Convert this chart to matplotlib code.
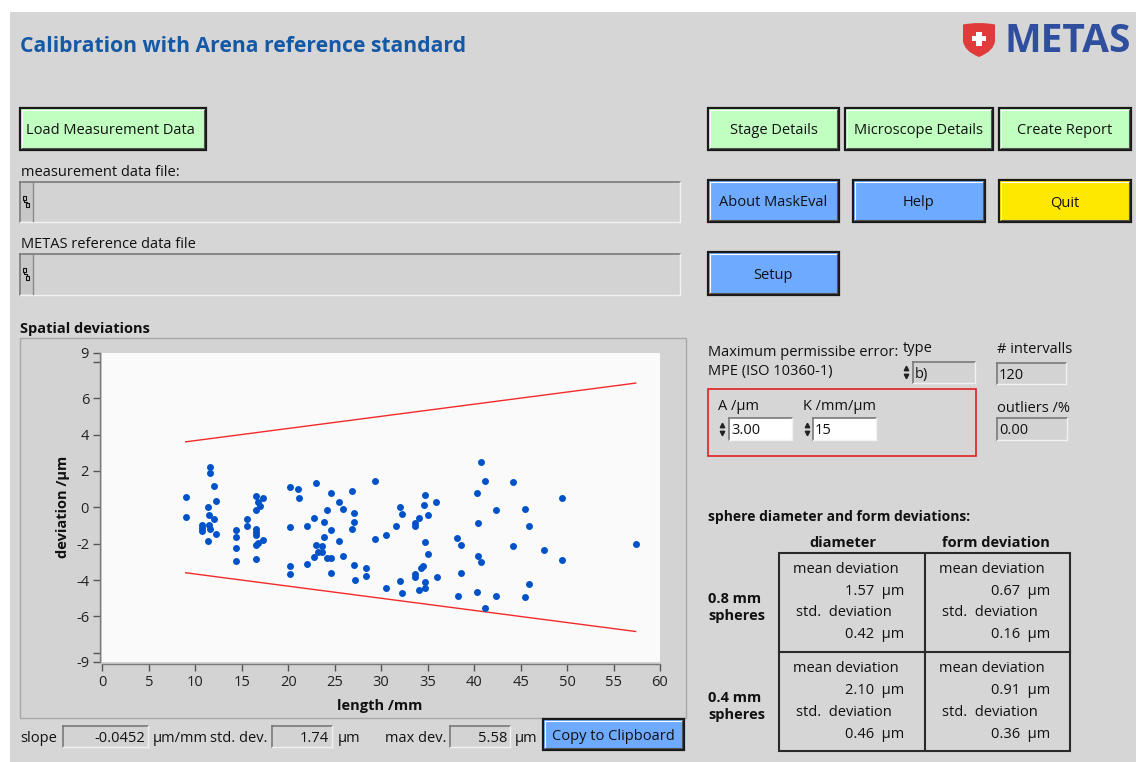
import matplotlib
matplotlib.use('Agg')
import matplotlib.pyplot as plt
from matplotlib.patches import Rectangle, PathPatch
from matplotlib.path import Path
from matplotlib.lines import Line2D

# measured sphere positions and their spatial deviations
length_mm = [8.97, 8.97, 11.55, 11.55, 12.05, 12.23, 11.41, 11.50, 12.05, 11.50,
             10.69, 10.69, 10.69, 11.55, 12.23, 11.41,
             14.42, 14.42, 14.42, 14.42, 15.57, 15.57,
             16.57, 17.29, 16.72, 17.00, 16.57, 16.57, 16.57, 16.57, 17.29, 16.72, 16.57, 16.57,
             20.16, 21.02, 21.16, 20.16, 20.16, 20.16,
             23.03, 24.60, 26.90, 29.34, 25.47, 25.90, 24.17, 27.04, 22.74, 23.89,
             22.02, 27.04, 24.60, 26.90, 23.89, 25.47, 23.03, 23.60, 23.17, 23.60,
             22.74, 24.17, 24.60, 25.90, 22.02, 24.60, 27.04, 27.19, 28.33, 28.33,
             29.34, 30.49, 30.49, 32.06, 32.21, 31.63, 33.64, 33.64, 34.07, 32.06,
             32.21, 33.64, 33.64, 34.30, 34.55, 34.07,
             34.72, 34.57, 35.87, 35.00, 34.72, 35.00, 34.72, 34.72, 36.01,
             38.16, 38.59, 38.59, 38.30,
             40.74, 41.17, 40.31, 40.45, 40.45, 40.74, 40.31, 41.17, 42.32, 42.32,
             44.19, 44.19, 45.48, 45.91, 45.91, 45.48,
             49.49, 47.48, 49.49, 57.38]
deviation_um = [0.59, -0.52, 2.20, 1.91, 1.17, 0.36, 0.00, -0.44, -0.66, -0.95,
                -0.98, -1.16, -1.31, -1.18, -1.48, -1.86,
                -1.25, -1.62, -2.21, -2.94, -0.66, -1.03,
                0.60, 0.51, 0.29, 0.07, -0.15, -1.21, -1.36, -1.50, -1.78, -1.95, -2.06, -2.83,
                1.10, 1.02, 0.51, -1.10, -3.23, -3.67,
                1.32, 0.81, 0.88, 1.47, 0.29, -0.08, -0.15, -0.30, -0.59, -0.81,
                -1.03, -0.81, -1.25, -1.18, -1.62, -1.84, -2.06, -2.13, -2.43, -2.43,
                -2.72, -2.79, -2.79, -2.65, -3.09, -3.60, -3.16, -3.97, -3.31, -3.75,
                -1.76, -1.54, -4.41, 0.00, -0.37, -1.03, -0.88, -1.03, -0.59, -4.04,
                -4.70, -3.67, -3.82, -3.33, -3.25, -4.56,
                0.66, 0.15, 0.29, -0.44, -1.91, -2.57, -4.12, -4.41, -3.82,
                -1.69, -2.06, -3.60, -4.85,
                2.50, 1.47, 0.81, -0.88, -2.65, -3.01, -4.63, -5.51, -0.15, -4.85,
                1.39, -2.13, -0.08, -1.03, -4.19, -4.92,
                0.51, -2.35, -2.87, -1.99]

# MPE parameters (ISO 10360-1): MPE = A + L/K
mpe_A = 3.00
mpe_K = 15

x_ticks = [0, 5, 10, 15, 20, 25, 30, 35, 40, 45, 50, 55, 60]
y_ticks = [-8.48, -8, -6, -4, -2, 0, 2, 4, 6, 8, 8.48]
y_tick_labels = ['-9', '', '-6', '-4', '-2', '0', '2', '4', '6', '', '9']

# fit summary shown under the graph
slope_text = '-0.0452'
std_dev_text = '1.74'
max_dev_text = '5.58'

# sphere diameter / form statistics
sphere_rows = ['0.8 mm\nspheres', '0.4 mm\nspheres']
diameter_mean = [1.57, 2.10]
diameter_std = [0.42, 0.46]
form_mean = [0.67, 0.91]
form_std = [0.16, 0.36]

W, H = 1136, 762
FONT = 'Open Sans'
PANEL = '#d6d6d6'
GREEN = '#c0ffc0'
BLUE = '#6eaaff'
YELLOW = '#ffe800'

plt.rcParams['font.family'] = [FONT, 'DejaVu Sans']

fig = plt.figure(figsize=(W / 100, H / 100), dpi=100)
fig.patch.set_facecolor('white')


def fx(x):
    return x / W


def fy(y):
    return 1 - y / H


def rect(x0, y0, x1, y1, face, edge='none', lw=1.0, z=1):
    fig.add_artist(Rectangle((fx(x0), fy(y1)), (x1 - x0) / W, (y1 - y0) / H,
                             transform=fig.transFigure, facecolor=face,
                             edgecolor=edge, linewidth=lw, zorder=z))


def line(xs, ys, color, lw=1.0, z=3):
    fig.add_artist(Line2D([fx(v) for v in xs], [fy(v) for v in ys],
                          transform=fig.transFigure, color=color, lw=lw, zorder=z))


def text(x, y, s, size=10.5, **kw):
    # Open Sans sits a little high with va='center', nudge it down
    kw.setdefault('va', 'center')
    kw.setdefault('color', '#111111')
    dy = 2 if kw.get('rotation', 0) == 0 else 0
    fig.text(fx(x), fy(y + dy), s, fontsize=size, zorder=5, **kw)


def button(x0, y0, x1, y1, label, face, ha='center'):
    rect(x0, y0, x1, y1, face, edge='#1a1a1a', lw=1.6, z=2)
    line([x0 + 2, x1 - 2], [y0 + 2, y0 + 2], 'white', lw=0.8)
    line([x0 + 2, x0 + 2], [y0 + 2, y1 - 2], 'white', lw=0.8)
    line([x0 + 2, x1 - 2], [y1 - 2.5, y1 - 2.5], '#555555', lw=0.8)
    line([x1 - 2.5, x1 - 2.5], [y0 + 2, y1 - 2], '#555555', lw=0.8)
    if ha == 'center':
        text((x0 + x1) / 2, (y0 + y1) / 2, label, ha='center')
    else:
        text(x0 + 6, (y0 + y1) / 2, label, ha='left')


def field(x0, y0, x1, y1, value='', face='#d3d3d3', ha='left', size=10.5):
    rect(x0, y0, x1, y1, face, z=2)
    line([x0, x1], [y0, y0], '#7a7a7a', lw=1.2)
    line([x0, x0], [y0, y1], '#7a7a7a', lw=1.2)
    line([x0, x1], [y1, y1], '#f2f2f2', lw=1.0)
    line([x1, x1], [y0, y1], '#f2f2f2', lw=1.0)
    if value:
        if ha == 'left':
            text(x0 + 2, (y0 + y1) / 2, value, ha='left', size=size)
        else:
            text(x1 - 3, (y0 + y1) / 2, value, ha='right', size=size)


def spinner(x, y):
    fig.add_artist(Line2D([fx(x)], [fy(y - 4)], marker='^', ms=3.2, color='#222222',
                          transform=fig.transFigure, zorder=6))
    fig.add_artist(Line2D([fx(x)], [fy(y + 4)], marker='v', ms=3.2, color='#222222',
                          transform=fig.transFigure, zorder=6))


def path_field(y0, y1):
    field(20, y0, 680, y1)
    rect(21, y0 + 1, 33, y1 - 1, '#c8c8c8', z=2)
    line([33, 33], [y0 + 1, y1 - 1], '#8a8a8a', lw=1.0)
    yc = (y0 + y1) / 2
    rect(22.5, yc - 6, 25.5, yc - 2, 'none', edge='#111111', lw=0.8, z=4)
    rect(25.5, yc + 1, 28.5, yc + 5, 'none', edge='#111111', lw=0.8, z=4)
    line([24, 24, 27, 27], [yc - 2, yc - 0.5, yc - 0.5, yc + 1], '#111111', lw=0.8)


# panel background
rect(10, 12, W, H, PANEL, z=0)

# header
text(20, 45, 'Calibration with Arena reference standard', size=15.2,
     weight='bold', color='#1458a6', ha='left')

shield = Path([(fx(963), fy(24.5)), (fx(979), fy(21.5)), (fx(995), fy(24.5)),
               (fx(995), fy(41)), (fx(994), fy(51)), (fx(979), fy(57)),
               (fx(964), fy(51)), (fx(963), fy(41)), (fx(963), fy(24.5))],
              [Path.MOVETO, Path.CURVE3, Path.CURVE3, Path.LINETO, Path.CURVE3,
               Path.CURVE3, Path.CURVE3, Path.CURVE3, Path.CLOSEPOLY])
fig.add_artist(PathPatch(shield, transform=fig.transFigure, facecolor='#e03a3a',
                         edgecolor='none', zorder=3))
rect(976.3, 31.5, 981.7, 46, 'white', z=4)
rect(972, 36, 986, 41.4, 'white', z=4)
text(1005, 39, 'METAS', size=28, weight='bold', color='#2f4f9e', ha='left')

# buttons
button(20, 108, 206, 150, 'Load Measurement Data', GREEN, ha='left')
button(708, 108, 839, 150, 'Stage Details', GREEN)
button(845, 108, 993, 150, 'Microscope Details', GREEN)
button(999, 108, 1131, 150, 'Create Report', GREEN)
button(708, 180, 839, 222, 'About MaskEval', BLUE)
button(853, 180, 985, 222, 'Help', BLUE)
button(999, 180, 1131, 222, 'Quit', YELLOW)
button(708, 252, 839, 295, 'Setup', BLUE)

# file paths
text(21, 170, 'measurement data file:', ha='left')
path_field(182, 222)
text(21, 242, 'METAS reference data file', ha='left')
path_field(254, 295)

# graph
text(20, 327, 'Spatial deviations', weight='bold', ha='left')
rect(20, 338, 686, 718, '#d3d3d3', edge='#a8a8a8', lw=1.0, z=1)

ax = fig.add_axes([fx(102.3), fy(661.6), (660 - 102.3) / W, (661.6 - 353.0) / H], zorder=3)
ax.set_facecolor('#fafafa')

mpe_x = [min(length_mm), max(length_mm)]
mpe_upper = [mpe_A + v / mpe_K for v in mpe_x]
mpe_lower = [-(mpe_A + v / mpe_K) for v in mpe_x]
ax.plot(mpe_x, mpe_upper, color='#f42a2a', lw=1.0)
ax.plot(mpe_x, mpe_lower, color='#f42a2a', lw=1.0)
ax.plot(length_mm, deviation_um, 'o', color='#0052c8', ms=5.0, mec='none')

ax.set_xlim(0, 60)
ax.set_ylim(-8.48, 8.48)
ax.set_xticks(x_ticks)
ax.set_xticklabels([str(t) for t in x_ticks])
ax.set_yticks(y_ticks)
ax.set_yticklabels(y_tick_labels)
for side in ['top', 'right']:
    ax.spines[side].set_visible(False)
for side in ['left', 'bottom']:
    ax.spines[side].set_color('#7a7a7a')
    ax.spines[side].set_linewidth(1.0)
    ax.spines[side].set_position(('outward', 1.5))
ax.tick_params(direction='out', length=5, width=1.0, color='#555555',
               labelcolor='#222222', labelsize=10.5, pad=3)
for lbl in ax.get_xticklabels() + ax.get_yticklabels():
    lbl.set_fontfamily(FONT)

text(63, 507, 'deviation /µm', weight='bold', rotation=90, ha='center')
text(380, 704, 'length /mm', weight='bold', ha='center')

# fit summary row
text(20, 736, 'slope', ha='left')
field(63, 726, 148, 747, slope_text, ha='right')
text(153, 736, 'µm/mm', ha='left')
text(210, 736, 'std. dev.', ha='left')
field(272, 726, 332, 747, std_dev_text, ha='right')
text(338, 736, 'µm', ha='left')
text(385, 736, 'max dev.', ha='left')
field(450, 726, 510, 747, max_dev_text, ha='right')
text(515, 736, 'µm', ha='left')
button(543, 719, 684, 750, 'Copy to Clipboard', BLUE)

# MPE settings
text(708, 350, 'Maximum permissibe error:', ha='left')
text(708, 370, 'MPE (ISO 10360-1)', ha='left')
text(903, 347, 'type', ha='left')
spinner(906, 372)
field(913, 362, 975, 383, 'b)')
text(997, 348, '# intervalls', ha='left')
field(997, 363, 1066, 384, '120')

rect(708, 389, 976, 455.5, 'none', edge='#e02020', lw=1.2, z=2)
text(718, 405, 'A /µm', ha='left')
spinner(722, 429)
field(729, 418, 792, 440, f'{mpe_A:.2f}', face='white')
text(803, 405, 'K /mm/µm', ha='left')
spinner(807, 429)
field(813, 418, 876, 440, f'{mpe_K}', face='white')
text(997, 406, 'outliers /%', ha='left')
field(997, 418, 1067, 440, '0.00')

# sphere table
text(708, 515, 'sphere diameter and form deviations:', size=10, weight='bold', ha='left')
text(843, 541, 'diameter', weight='bold', ha='center')
text(996, 541, 'form deviation', weight='bold', ha='center')
rect(779, 553, 1070, 751, 'none', edge='#2a2a2a', lw=1.5, z=2)
line([924.5, 924.5], [553, 751], '#2a2a2a', lw=1.5)
line([779, 1070], [652, 652], '#2a2a2a', lw=1.5)

row_top = [553, 652]
for i, top in enumerate(row_top):
    text(708, top + 52.5, sphere_rows[i], weight='bold', ha='left', linespacing=1.3)
    for x_lab, x_val, mean, std in [(793, 904, diameter_mean[i], diameter_std[i]),
                                    (939, 1050, form_mean[i], form_std[i])]:
        text(x_lab, top + 14.5, 'mean deviation', ha='left')
        text(x_val, top + 36.5, f'{mean:.2f}  µm', ha='right')
        text(x_lab + 3, top + 58, 'std.  deviation', ha='left')
        text(x_val, top + 80, f'{std:.2f}  µm', ha='right')

fig.savefig('out.png', dpi=100, facecolor=fig.get_facecolor())
